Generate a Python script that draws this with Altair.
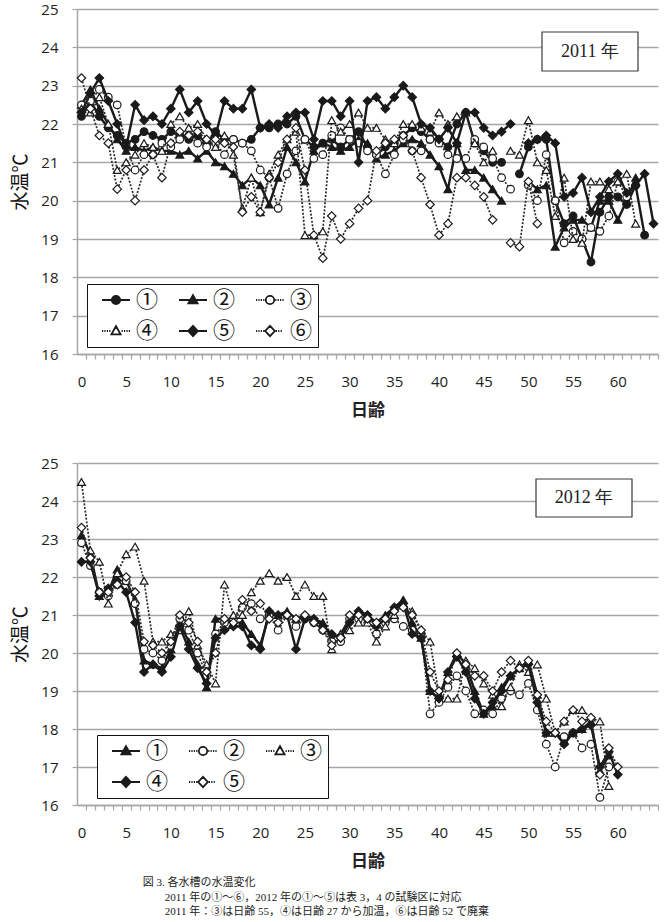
import altair as alt
import pandas as pd

N = None

# ---------------- data ----------------
days_2011 = list(range(65))
days_2012 = list(range(61))
names_2011 = ["①", "②", "③", "④", "⑤", "⑥"]
names_2012 = ["①", "②", "③", "④", "⑤"]
y_ticks = list(range(16, 26))

t11_1 = [22.2, 22.6, 22.2, 21.9, 21.7, 21.5, 21.6, 21.8, 21.7, 21.6,
         21.8, 21.7, 21.6, 21.7, 21.5, 21.8, 21.6, 21.6, 21.5, 21.6,
         21.9, 21.9, 22.0, 22.0, 22.2, 21.6, 21.4, 21.5, 21.6, 21.4,
         21.6, 21.8, 21.4, 21.2, 21.4, 21.5, 21.7, 21.9, 21.8, 21.6,
         21.6, 21.4, 22.0, 22.3, 21.5, 21.3, 21.0, 21.0, N, 20.7,
         21.4, 21.6, 21.6, 20.0, 19.4, 19.6, 19.0, 18.4, 19.7, 20.1,
         20.1, 19.9, 20.4, 19.1, N]
t11_2 = [22.5, 22.9, 22.4, 22.0, 21.6, 21.3, 21.4, 21.3, 21.4, 21.3,
         21.3, 21.2, 21.3, 21.1, 21.3, 21.0, 20.9, 20.7, 20.4, 20.6,
         20.4, 19.9, 20.6, 21.4, 21.0, 20.5, 21.3, 21.5, 21.4, 21.3,
         21.4, 21.6, 21.5, 21.1, 21.2, 21.3, 21.5, 21.6, 21.5, 21.2,
         20.9, 20.3, 21.5, 20.8, 20.8, 20.6, 20.3, 20.0, N, N,
         20.5, 20.3, 20.4, 18.8, 19.3, 19.5, 19.5, 19.3, 20.0, 20.0,
         19.5, 20.0, 20.6, N, N]
t11_3 = [22.5, 22.6, 22.9, 22.7, 22.5, 21.4, 20.8, 21.2, 21.2, 21.5,
         21.4, 21.6, 21.7, 21.5, 21.4, 21.5, 21.2, 21.6, 21.5, 21.3,
         20.8, 20.6, 19.8, 20.7, 21.3, 21.6, 21.1, 21.2, 21.7, 21.9,
         21.6, 21.5, 21.3, 21.2, 20.7, 21.2, 21.6, 21.3, 21.3, 21.6,
         21.5, 21.2, 21.1, 21.1, 21.6, 21.4, 21.1, 20.6, 20.3, N,
         20.4, 20.0, 21.2, 20.0, 18.9, 19.2, 19.0, 19.3, 19.2, 19.6,
         20.5, 20.1, N, N, N]
t11_4 = [22.4, 22.3, 22.7, 22.0, 20.8, 21.0, 21.2, 21.5, 21.4, 21.3,
         22.0, 22.2, 21.9, 22.0, 21.6, 21.4, 21.7, 21.2, 19.8, 20.6,
         19.7, 20.7, 21.2, 21.6, 21.8, 19.1, 19.1, 19.2, 22.1, 21.8,
         22.0, 22.3, 21.9, 21.9, 21.6, 21.5, 22.0, 22.0, 21.9, 21.8,
         22.3, 22.0, 22.2, 22.3, 21.5, 21.0, 21.3, N, 21.3, 21.2,
         22.1, 21.0, 20.8, 19.6, 20.6, 19.0, 18.9, 20.5, 20.5, 20.3,
         20.5, 20.7, 19.4, N, N]
t11_5 = [22.3, 22.8, 23.2, 22.6, 22.0, 21.4, 22.5, 22.1, 22.2, 22.0,
         22.4, 22.9, 22.3, 22.6, 22.0, 21.7, 22.6, 22.4, 22.4, 22.9,
         21.9, 22.0, 21.9, 22.2, 22.3, 22.3, 21.6, 22.6, 22.6, 22.2,
         22.6, 21.0, 22.6, 22.7, 22.4, 22.7, 23.0, 22.7, 22.0, 21.9,
         21.6, 21.9, 21.5, 22.3, 22.3, 21.9, 21.7, 21.8, 22.0, N,
         21.5, 21.6, 21.7, 21.5, 20.1, 20.2, 20.6, 19.7, 20.1, 20.5,
         20.7, 20.2, 20.4, 20.7, 19.4]
t11_6 = [23.2, 22.4, 21.7, 21.5, 20.3, 20.8, 20.0, 20.8, 21.2, 20.6,
         21.5, 21.8, 21.7, 21.8, 21.6, 21.6, 21.5, 21.4, 19.7, 20.1,
         19.7, 20.6, 21.0, 21.6, 21.9, 20.8, 19.1, 18.5, 19.6, 19.0,
         19.4, 19.8, 20.0, 21.3, 21.5, 21.6, 21.7, 21.3, 20.6, 19.9,
         19.1, 19.4, 20.6, 20.6, 20.4, 20.1, 19.5, N, 18.9, 18.8,
         20.5, 19.4, N, N, N, N, N, N, N, N,
         N, N, N, N, N]

t12_1 = [23.1, 22.6, 21.5, 21.6, 22.2, 21.9, 21.4, 19.8, 19.7, 19.6,
         20.1, 20.8, 20.3, 19.7, 19.1, 20.9, 20.9, 20.8, 20.8, 20.5,
         20.2, 21.0, 21.0, 21.1, 20.9, 21.0, 20.9, 20.8, 20.4, 20.5,
         20.9, 21.1, 21.0, 20.8, 21.0, 21.2, 21.4, 20.8, 20.4, 19.0,
         18.8, 19.5, 20.0, 19.7, 19.0, 18.4, 18.6, 19.1, 19.4, 19.6,
         19.8, 18.9, 17.9, 17.9, 17.7, 17.9, 18.0, 18.2, 16.9, 17.3,
         N]
t12_2 = [22.9, 22.3, 21.6, 21.5, 21.8, 21.9, 21.3, 20.1, 20.0, 19.8,
         20.2, 20.9, 20.6, 20.0, 19.4, 20.5, 20.8, 20.9, 21.2, 21.3,
         20.9, 21.0, 20.6, 21.0, 20.7, 20.9, 20.8, 20.6, 20.3, 20.3,
         20.9, 20.9, 20.9, 20.5, 20.8, 20.9, 20.7, 20.6, 20.5, 18.4,
         18.7, 19.1, 19.4, 19.0, 18.4, 18.5, 18.4, 18.8, 19.0, 18.9,
         19.2, 18.5, 17.6, 17.0, 17.8, 17.9, 17.5, 17.6, 16.2, 17.0,
         N]
t12_3 = [24.5, 22.7, 22.4, 21.3, 22.1, 22.6, 22.8, 21.9, 20.3, 20.3,
         20.5, 20.6, 21.1, 20.2, 19.7, 19.2, 21.8, 21.0, 21.0, 21.6,
         21.9, 22.1, 21.9, 22.0, 21.5, 21.8, 21.5, 21.5, 20.1, 20.5,
         20.6, 20.8, 20.8, 20.3, 20.7, 21.0, 21.3, 21.1, 20.6, 20.3,
         18.9, 18.8, 18.8, 19.8, 19.6, 19.2, 18.9, 18.6, 19.1, 19.7,
         19.5, 19.7, 18.8, 17.9, 18.2, 18.5, 18.5, 18.3, 18.2, 16.5,
         N]
t12_4 = [22.4, 22.4, 21.5, 21.7, 21.9, 21.6, 20.8, 19.5, 19.7, 19.5,
         19.9, 20.7, 20.1, 19.6, 19.2, 20.4, 20.6, 20.7, 20.7, 20.2,
         20.1, 21.1, 21.0, 21.0, 20.1, 20.9, 20.9, 20.7, 20.5, 20.4,
         20.8, 21.1, 21.0, 20.7, 20.9, 21.2, 21.3, 20.5, 20.4, 19.0,
         18.8, 19.5, 19.9, 19.5, 18.8, 18.4, 18.7, 19.0, 19.4, 19.6,
         19.7, 18.7, 17.9, 17.9, 17.6, 17.9, 18.0, 18.1, 17.0, 17.4,
         16.8]
t12_5 = [23.3, 22.5, 21.6, 21.6, 21.8, 22.0, 21.6, 20.3, 20.2, 20.0,
         20.3, 21.0, 20.8, 20.3, 19.5, 20.0, 20.9, 20.8, 21.4, 21.1,
         21.3, 20.9, 20.8, 21.0, 20.9, 21.0, 20.8, 20.6, 20.2, 20.4,
         21.0, 21.0, 20.9, 20.8, 20.9, 21.1, 21.2, 21.0, 20.6, 19.5,
         19.0, 19.3, 20.0, 19.7, 19.4, 19.4, 19.0, 19.5, 19.8, 19.6,
         19.8, 18.9, 18.2, 17.9, 18.2, 18.5, 18.2, 18.3, 16.8, 17.5,
         17.0]

year_2011 = "2011 年"
year_2012 = "2012 年"
INDENT = "\u200b\u3000\u3000"
caption_lines = [
    "図 3.  各水槽の水温変化",
    INDENT + "2011 年の①～⑥，2012 年の①～⑤は表 3，4 の試験区に対応",
    INDENT + "2011 年：③は日齢 55，④は日齢 27 から加温，⑥は日齢 52 で廃棄",
]

# ---------------- styles ----------------
# (shape, filled marker, dotted line)
MARKS_2011 = [("circle", True, False), ("triangle-up", True, False), ("circle", False, True),
              ("triangle-up", False, True), ("diamond", True, False), ("diamond", False, True)]
MARKS_2012 = [("triangle-up", True, False), ("circle", False, True), ("triangle-up", False, True),
              ("diamond", True, False), ("diamond", False, True)]
MARK_SIZE = {"circle": 58, "triangle-up": 62, "diamond": 72}

W = 581
STEP = W / 65
INK = "#1a1a1a"
GRID = "#a6a6a6"
NUM_FONT = "Open Sans"
CJK = "Noto Sans CJK JP"


def segments(days, vals):
    rows, seg = [], 0
    for d, v in zip(days, vals):
        if v is None:
            seg += 1
            continue
        rows.append({"day": d, "temp": v, "seg": seg})
    return pd.DataFrame(rows)


def legend_path(shape, filled, dotted):
    cx = 1.3
    if shape == "circle":
        r = 0.42
        mk = f"M{cx - r:.2f},0 A{r},{r} 0 1,0 {cx + r:.2f},0 A{r},{r} 0 1,0 {cx - r:.2f},0 Z"
        half = r
    elif shape == "triangle-up":
        mk = f"M{cx},-0.48 L{cx + 0.46:.2f},0.34 L{cx - 0.46:.2f},0.34 Z"
        half = 0.46
    else:
        mk = f"M{cx},-0.52 L{cx + 0.48:.2f},0 L{cx},0.52 L{cx - 0.48:.2f},0 Z"
        half = 0.48
    if dotted:
        segs = []
        x = -0.1
        while x + 0.12 < cx - half - 0.05:
            segs.append(f"M{x:.2f},0 h0.12")
            x += 0.24
        x = cx + half + 0.1
        while x + 0.12 <= 2.72:
            segs.append(f"M{x:.2f},0 h0.12")
            x += 0.24
        line = " ".join(segs)
    else:
        line = "M-0.1,0 L2.7,0"
    return line + " " + mk


def x_enc():
    return alt.X(
        "day:Q",
        scale=alt.Scale(domain=[-0.5, 64.5], nice=False, zero=False),
        axis=alt.Axis(
            values=list(range(65)),
            labelExpr="datum.value % 5 === 0 ? datum.label : ''",
            tickOffset=STEP / 2, labelOffset=-STEP / 2,
            tickSize=5, tickColor=GRID, tickWidth=1.2,
            domainColor=GRID, domainWidth=1.5, grid=False,
            labelFont=NUM_FONT, labelFontSize=15, labelColor="#222",
            labelPadding=15, labelOverlap=False, labelFlush=False,
            title="日齢", titleFont=CJK, titleFontSize=17, titleFontWeight="bold",
            titleColor="#222", titlePadding=13,
        ),
    )


def y_enc():
    return alt.Y(
        "temp:Q",
        scale=alt.Scale(domain=[16, 25], nice=False, zero=False),
        axis=alt.Axis(
            values=y_ticks, tickSize=5, tickColor=GRID, tickWidth=1.2,
            domainColor=GRID, domainWidth=1.5, gridColor=GRID, gridWidth=1.5,
            labelFont=NUM_FONT, labelFontSize=15, labelColor="#222", labelPadding=14,
            title="水温℃", titleFont=CJK, titleFontSize=19, titleFontWeight="normal",
            titleColor="#111", titlePadding=10,
        ),
    )


def panel(days, series, names, marks, year_text, height, leg_x, leg_y, box, txt_xy):
    layers = []
    for vals, (shape, filled, dotted) in zip(series, marks):
        df = segments(days, vals)
        if dotted:
            line = alt.Chart(df).mark_line(color="#2a2a2a", strokeWidth=1.7, strokeDash=[2, 1.6])
        else:
            line = alt.Chart(df).mark_line(color=INK, strokeWidth=2.4)
        layers.append(line.encode(x=x_enc(), y=y_enc(), detail="seg:N"))
        pts = alt.Chart(df).mark_point(
            shape=shape, filled=True, fill=INK if filled else "white",
            stroke=INK, strokeWidth=1.2, size=MARK_SIZE[shape], opacity=1,
        ).encode(x=x_enc(), y=y_enc())
        layers.append(pts)

    leg_df = pd.DataFrame({"key": names})
    paths = [legend_path(*m) for m in marks]
    fills = [INK if m[1] else "white" for m in marks]
    legend = alt.Legend(
        orient="none", legendX=leg_x, legendY=leg_y, columns=3, direction="horizontal",
        title=None,
        symbolSize=400, symbolStrokeWidth=1.8, symbolStrokeColor=INK, symbolOpacity=1,
        labelFont=CJK, labelFontSize=22, labelColor="#111", labelOffset=22,
        columnPadding=10, rowPadding=9, padding=5,
        strokeColor="#111", fillColor="white", labelLimit=0,
    )
    leg_layer = alt.Chart(leg_df).mark_point(filled=True, opacity=0).encode(
        shape=alt.Shape("key:N", scale=alt.Scale(domain=names, range=paths), legend=legend),
        fill=alt.Fill("key:N", scale=alt.Scale(domain=names, range=fills), legend=legend),
        stroke=alt.Stroke("key:N", scale=alt.Scale(domain=names, range=[INK] * len(names)),
                          legend=legend),
    )
    layers.append(leg_layer)

    ydf = pd.DataFrame({"label": [year_text]})
    rect = alt.Chart(ydf).mark_rect(fill="white", stroke="#3a3a3a", strokeWidth=1.2).encode(
        x=alt.value(box[0]), x2=alt.value(box[1]), y=alt.value(box[2]), y2=alt.value(box[3]))
    txt = alt.Chart(ydf).mark_text(font="Liberation Serif", fontSize=18, color="#222").encode(
        x=alt.value(txt_xy[0]), y=alt.value(txt_xy[1]), text="label:N")
    layers += [rect, txt]
    return alt.layer(*layers).properties(width=W, height=height)


top = panel(days_2011, [t11_1, t11_2, t11_3, t11_4, t11_5, t11_6], names_2011, MARKS_2011,
            year_2011, 345, 10, 275, (465, 561, 23, 62), (513, 43))
bottom = panel(days_2012, [t12_1, t12_2, t12_3, t12_4, t12_5], names_2012, MARKS_2012,
               year_2012, 342, 20, 272, (459, 555, 16, 54), (507, 35))

chart = (
    alt.vconcat(top, bottom, spacing=38)
    .resolve_scale(shape="independent", fill="independent", stroke="independent")
    .resolve_legend(shape="independent", fill="independent", stroke="independent")
    .properties(
        title=alt.TitleParams(
            text=caption_lines, orient="bottom", anchor="start",
            font="Liberation Serif, Noto Sans CJK JP", fontSize=11, fontWeight="normal",
            color="#222", lineHeight=14.5, offset=8, dx=131,
        ),
        padding={"left": 11, "top": 2, "right": 0, "bottom": 0},
    )
    .configure_view(stroke=None)
)

chart.save("out.html", embed_options={"renderer": "svg", "actions": False})
